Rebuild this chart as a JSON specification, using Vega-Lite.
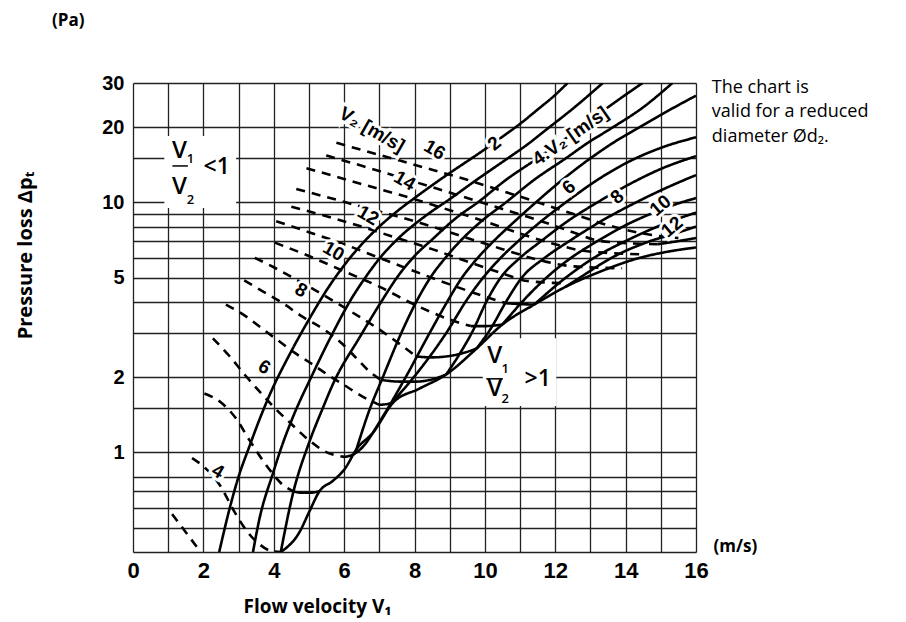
{
  "$schema": "https://vega.github.io/schema/vega-lite/v6.json",
  "autosize": {"type": "none"},
  "padding": {"left": 133, "top": 83, "right": 210, "bottom": 70},
  "width": 563,
  "height": 469,
  "background": "white",
  "config": {"view": {"stroke": null}},
  "datasets": {
    "curves": [
      {"id":"d3","s":"dashed","x":1.11,"y":0.567},{"id":"d3","s":"dashed","x":1.5,"y":0.48},{"id":"d3","s":"dashed","x":1.92,"y":0.4},
      {"id":"d4","s":"dashed","x":1.68,"y":0.95},{"id":"d4","s":"dashed","x":2.0,"y":0.88},{"id":"d4","s":"dashed","x":2.47,"y":0.74},{"id":"d4","s":"dashed","x":2.88,"y":0.58},{"id":"d4","s":"dashed","x":3.26,"y":0.48},{"id":"d4","s":"dashed","x":3.59,"y":0.43},{"id":"d4","s":"dashed","x":3.9,"y":0.405},{"id":"d4","s":"dashed","x":4.2,"y":0.4},
      {"id":"d5","s":"dashed","x":2.03,"y":1.72},{"id":"d5","s":"dashed","x":2.51,"y":1.58},{"id":"d5","s":"dashed","x":2.94,"y":1.36},{"id":"d5","s":"dashed","x":3.31,"y":1.12},{"id":"d5","s":"dashed","x":3.92,"y":0.84},{"id":"d5","s":"dashed","x":4.22,"y":0.75},{"id":"d5","s":"dashed","x":4.55,"y":0.7},
      {"id":"d6","s":"dashed","x":2.27,"y":2.86},{"id":"d6","s":"dashed","x":2.74,"y":2.43},{"id":"d6","s":"dashed","x":3.17,"y":2.05},{"id":"d6","s":"dashed","x":3.6,"y":1.75},{"id":"d6","s":"dashed","x":4.0,"y":1.52},{"id":"d6","s":"dashed","x":4.5,"y":1.3},{"id":"d6","s":"dashed","x":5.0,"y":1.12},{"id":"d6","s":"dashed","x":5.45,"y":1.01},{"id":"d6","s":"dashed","x":6.0,"y":0.96},
      {"id":"d7","s":"dashed","x":2.64,"y":3.9},{"id":"d7","s":"dashed","x":3.21,"y":3.5},{"id":"d7","s":"dashed","x":3.68,"y":3.12},{"id":"d7","s":"dashed","x":4.1,"y":2.82},{"id":"d7","s":"dashed","x":4.6,"y":2.5},{"id":"d7","s":"dashed","x":5.0,"y":2.3},{"id":"d7","s":"dashed","x":5.5,"y":2.06},{"id":"d7","s":"dashed","x":6.0,"y":1.86},{"id":"d7","s":"dashed","x":6.5,"y":1.68},{"id":"d7","s":"dashed","x":7.0,"y":1.55},
      {"id":"d8","s":"dashed","x":3.16,"y":4.87},{"id":"d8","s":"dashed","x":3.7,"y":4.4},{"id":"d8","s":"dashed","x":4.2,"y":4.0},{"id":"d8","s":"dashed","x":4.8,"y":3.5},{"id":"d8","s":"dashed","x":5.49,"y":3.06},{"id":"d8","s":"dashed","x":5.97,"y":2.7},{"id":"d8","s":"dashed","x":6.35,"y":2.38},{"id":"d8","s":"dashed","x":6.7,"y":2.12},{"id":"d8","s":"dashed","x":7.05,"y":1.95},
      {"id":"d9","s":"dashed","x":3.46,"y":6.0},{"id":"d9","s":"dashed","x":4.0,"y":5.5},{"id":"d9","s":"dashed","x":5.0,"y":4.6},{"id":"d9","s":"dashed","x":6.0,"y":3.8},{"id":"d9","s":"dashed","x":7.0,"y":3.1},{"id":"d9","s":"dashed","x":7.6,"y":2.7},{"id":"d9","s":"dashed","x":8.05,"y":2.42},
      {"id":"d10","s":"dashed","x":4.03,"y":6.9},{"id":"d10","s":"dashed","x":5.0,"y":6.1},{"id":"d10","s":"dashed","x":6.0,"y":5.3},{"id":"d10","s":"dashed","x":7.0,"y":4.6},{"id":"d10","s":"dashed","x":8.0,"y":3.9},{"id":"d10","s":"dashed","x":9.0,"y":3.4},{"id":"d10","s":"dashed","x":9.6,"y":3.2},
      {"id":"d11","s":"dashed","x":4.07,"y":8.4},{"id":"d11","s":"dashed","x":5.0,"y":7.6},{"id":"d11","s":"dashed","x":6.0,"y":6.8},{"id":"d11","s":"dashed","x":7.0,"y":6.0},{"id":"d11","s":"dashed","x":8.0,"y":5.3},{"id":"d11","s":"dashed","x":9.0,"y":4.7},{"id":"d11","s":"dashed","x":10.0,"y":4.2},{"id":"d11","s":"dashed","x":10.6,"y":3.95},
      {"id":"d12","s":"dashed","x":4.5,"y":9.6},{"id":"d12","s":"dashed","x":5.5,"y":8.8},{"id":"d12","s":"dashed","x":6.5,"y":8.0},{"id":"d12","s":"dashed","x":7.5,"y":7.2},{"id":"d12","s":"dashed","x":8.5,"y":6.5},{"id":"d12","s":"dashed","x":9.5,"y":5.8},{"id":"d12","s":"dashed","x":10.5,"y":5.2},{"id":"d12","s":"dashed","x":11.2,"y":4.85},{"id":"d12","s":"dashed","x":12.2,"y":4.75},
      {"id":"d13","s":"dashed","x":4.64,"y":11.3},{"id":"d13","s":"dashed","x":5.5,"y":10.5},{"id":"d13","s":"dashed","x":6.5,"y":9.6},{"id":"d13","s":"dashed","x":7.5,"y":8.8},{"id":"d13","s":"dashed","x":8.5,"y":8.0},{"id":"d13","s":"dashed","x":9.5,"y":7.2},{"id":"d13","s":"dashed","x":10.5,"y":6.5},{"id":"d13","s":"dashed","x":11.5,"y":5.9},{"id":"d13","s":"dashed","x":12.5,"y":5.55},{"id":"d13","s":"dashed","x":13.9,"y":5.45},
      {"id":"d14","s":"dashed","x":4.93,"y":13.7},{"id":"d14","s":"dashed","x":6.0,"y":12.4},{"id":"d14","s":"dashed","x":7.0,"y":11.3},{"id":"d14","s":"dashed","x":8.0,"y":10.3},{"id":"d14","s":"dashed","x":9.0,"y":9.3},{"id":"d14","s":"dashed","x":10.0,"y":8.4},{"id":"d14","s":"dashed","x":11.0,"y":7.5},{"id":"d14","s":"dashed","x":12.0,"y":6.8},{"id":"d14","s":"dashed","x":12.8,"y":6.4},{"id":"d14","s":"dashed","x":14.4,"y":6.2},
      {"id":"d15","s":"dashed","x":5.49,"y":15.4},{"id":"d15","s":"dashed","x":6.5,"y":14.0},{"id":"d15","s":"dashed","x":7.5,"y":12.7},{"id":"d15","s":"dashed","x":8.5,"y":11.5},{"id":"d15","s":"dashed","x":9.5,"y":10.4},{"id":"d15","s":"dashed","x":10.5,"y":9.4},{"id":"d15","s":"dashed","x":11.5,"y":8.5},{"id":"d15","s":"dashed","x":12.5,"y":7.6},{"id":"d15","s":"dashed","x":13.3,"y":7.0},{"id":"d15","s":"dashed","x":14.9,"y":6.8},
      {"id":"d16","s":"dashed","x":5.78,"y":17.3},{"id":"d16","s":"dashed","x":6.5,"y":16.2},{"id":"d16","s":"dashed","x":7.5,"y":14.8},{"id":"d16","s":"dashed","x":8.5,"y":13.5},{"id":"d16","s":"dashed","x":9.5,"y":12.3},{"id":"d16","s":"dashed","x":10.5,"y":11.1},{"id":"d16","s":"dashed","x":11.5,"y":10.0},{"id":"d16","s":"dashed","x":12.5,"y":9.0},{"id":"d16","s":"dashed","x":13.5,"y":8.1},{"id":"d16","s":"dashed","x":14.5,"y":7.5},{"id":"d16","s":"dashed","x":15.5,"y":7.2},
      {"id":"S1","s":"solid","x":2.45,"y":0.4},{"id":"S1","s":"solid","x":2.75,"y":0.6},{"id":"S1","s":"solid","x":3.0,"y":0.8},{"id":"S1","s":"solid","x":3.3,"y":1.05},{"id":"S1","s":"solid","x":3.6,"y":1.36},{"id":"S1","s":"solid","x":3.9,"y":1.72},{"id":"S1","s":"solid","x":4.44,"y":2.45},{"id":"S1","s":"solid","x":5.0,"y":3.4},{"id":"S1","s":"solid","x":5.5,"y":4.45},{"id":"S1","s":"solid","x":6.0,"y":5.6},{"id":"S1","s":"solid","x":6.5,"y":6.8},{"id":"S1","s":"solid","x":7.0,"y":8.0},{"id":"S1","s":"solid","x":7.5,"y":9.2},{"id":"S1","s":"solid","x":8.0,"y":10.4},{"id":"S1","s":"solid","x":8.5,"y":11.7},{"id":"S1","s":"solid","x":9.0,"y":13.1},{"id":"S1","s":"solid","x":9.5,"y":14.6},{"id":"S1","s":"solid","x":10.0,"y":16.3},{"id":"S1","s":"solid","x":10.5,"y":18.3},{"id":"S1","s":"solid","x":11.0,"y":20.6},{"id":"S1","s":"solid","x":11.5,"y":23.5},{"id":"S1","s":"solid","x":12.0,"y":26.9},{"id":"S1","s":"solid","x":12.35,"y":30},
      {"id":"S2","s":"solid","x":3.41,"y":0.4},{"id":"S2","s":"solid","x":3.59,"y":0.54},{"id":"S2","s":"solid","x":3.97,"y":0.82},{"id":"S2","s":"solid","x":4.25,"y":1.08},{"id":"S2","s":"solid","x":4.54,"y":1.38},{"id":"S2","s":"solid","x":5.1,"y":2.05},{"id":"S2","s":"solid","x":5.65,"y":2.95},{"id":"S2","s":"solid","x":6.2,"y":4.1},{"id":"S2","s":"solid","x":6.6,"y":5.0},{"id":"S2","s":"solid","x":7.0,"y":5.95},{"id":"S2","s":"solid","x":7.55,"y":7.2},{"id":"S2","s":"solid","x":8.3,"y":8.8},{"id":"S2","s":"solid","x":9.0,"y":10.3},{"id":"S2","s":"solid","x":9.8,"y":12.4},{"id":"S2","s":"solid","x":10.65,"y":15},{"id":"S2","s":"solid","x":11.2,"y":17},{"id":"S2","s":"solid","x":11.8,"y":19.8},{"id":"S2","s":"solid","x":12.55,"y":24},{"id":"S2","s":"solid","x":13.35,"y":30},
      {"id":"S3","s":"solid","x":4.2,"y":0.4},{"id":"S3","s":"solid","x":4.54,"y":0.68},{"id":"S3","s":"solid","x":5.01,"y":1.1},{"id":"S3","s":"solid","x":5.39,"y":1.5},{"id":"S3","s":"solid","x":5.7,"y":1.9},{"id":"S3","s":"solid","x":6.45,"y":2.9},{"id":"S3","s":"solid","x":7.1,"y":4.1},{"id":"S3","s":"solid","x":7.5,"y":5.0},{"id":"S3","s":"solid","x":8.0,"y":6.1},{"id":"S3","s":"solid","x":8.5,"y":7.1},{"id":"S3","s":"solid","x":9.2,"y":8.7},{"id":"S3","s":"solid","x":9.8,"y":10},{"id":"S3","s":"solid","x":10.6,"y":12.3},{"id":"S3","s":"solid","x":11.5,"y":15},{"id":"S3","s":"solid","x":12.1,"y":17.2},{"id":"S3","s":"solid","x":12.7,"y":19.8},{"id":"S3","s":"solid","x":13.5,"y":24},{"id":"S3","s":"solid","x":14.48,"y":30},
      {"id":"S4","s":"solid","x":6.35,"y":1.03},{"id":"S4","s":"solid","x":6.72,"y":1.48},{"id":"S4","s":"solid","x":7.1,"y":2.0},{"id":"S4","s":"solid","x":7.6,"y":2.95},{"id":"S4","s":"solid","x":8.05,"y":4.0},{"id":"S4","s":"solid","x":8.45,"y":5.0},{"id":"S4","s":"solid","x":8.9,"y":6.05},{"id":"S4","s":"solid","x":9.3,"y":7.0},{"id":"S4","s":"solid","x":9.9,"y":8.4},{"id":"S4","s":"solid","x":10.6,"y":10},{"id":"S4","s":"solid","x":11.4,"y":12.3},{"id":"S4","s":"solid","x":12.3,"y":15},{"id":"S4","s":"solid","x":12.9,"y":17.2},{"id":"S4","s":"solid","x":13.6,"y":19.8},{"id":"S4","s":"solid","x":14.5,"y":24},{"id":"S4","s":"solid","x":15.33,"y":30},
      {"id":"S5","s":"solid","x":6.82,"y":1.2},{"id":"S5","s":"solid","x":7.3,"y":1.55},{"id":"S5","s":"solid","x":7.75,"y":2.0},{"id":"S5","s":"solid","x":8.4,"y":2.95},{"id":"S5","s":"solid","x":8.95,"y":4.05},{"id":"S5","s":"solid","x":9.35,"y":5.0},{"id":"S5","s":"solid","x":9.8,"y":6.0},{"id":"S5","s":"solid","x":10.25,"y":7.0},{"id":"S5","s":"solid","x":10.85,"y":8.4},{"id":"S5","s":"solid","x":11.45,"y":10},{"id":"S5","s":"solid","x":12.2,"y":12.3},{"id":"S5","s":"solid","x":13.0,"y":15},{"id":"S5","s":"solid","x":13.7,"y":17.5},{"id":"S5","s":"solid","x":14.4,"y":20},{"id":"S5","s":"solid","x":15.2,"y":23.2},{"id":"S5","s":"solid","x":16,"y":26.7},
      {"id":"S6","s":"solid","x":7.39,"y":1.6},{"id":"S6","s":"solid","x":8.1,"y":2.1},{"id":"S6","s":"solid","x":8.9,"y":3.0},{"id":"S6","s":"solid","x":9.5,"y":4.1},{"id":"S6","s":"solid","x":9.95,"y":5.0},{"id":"S6","s":"solid","x":10.45,"y":6.0},{"id":"S6","s":"solid","x":10.95,"y":7.0},{"id":"S6","s":"solid","x":11.6,"y":8.4},{"id":"S6","s":"solid","x":12.3,"y":10},{"id":"S6","s":"solid","x":13.2,"y":12.3},{"id":"S6","s":"solid","x":14.2,"y":14.8},{"id":"S6","s":"solid","x":15.1,"y":16.7},{"id":"S6","s":"solid","x":16,"y":18.2},
      {"id":"S7","s":"solid","x":8.9,"y":2.05},{"id":"S7","s":"solid","x":9.3,"y":2.5},{"id":"S7","s":"solid","x":9.65,"y":3.05},{"id":"S7","s":"solid","x":10.04,"y":4.0},{"id":"S7","s":"solid","x":10.45,"y":5.0},{"id":"S7","s":"solid","x":11.0,"y":6.0},{"id":"S7","s":"solid","x":11.6,"y":7.0},{"id":"S7","s":"solid","x":12.4,"y":8.5},{"id":"S7","s":"solid","x":13.2,"y":10},{"id":"S7","s":"solid","x":14.1,"y":11.8},{"id":"S7","s":"solid","x":15.0,"y":13.6},{"id":"S7","s":"solid","x":16,"y":15.3},
      {"id":"S8","s":"solid","x":9.76,"y":2.6},{"id":"S8","s":"solid","x":10.15,"y":3.1},{"id":"S8","s":"solid","x":10.6,"y":4.0},{"id":"S8","s":"solid","x":11.05,"y":5.0},{"id":"S8","s":"solid","x":11.7,"y":6.0},{"id":"S8","s":"solid","x":12.4,"y":7.0},{"id":"S8","s":"solid","x":13.3,"y":8.4},{"id":"S8","s":"solid","x":14.3,"y":10},{"id":"S8","s":"solid","x":15.2,"y":11.5},{"id":"S8","s":"solid","x":16,"y":12.85},
      {"id":"S9","s":"solid","x":10.5,"y":3.25},{"id":"S9","s":"solid","x":11.2,"y":4.2},{"id":"S9","s":"solid","x":11.75,"y":5.0},{"id":"S9","s":"solid","x":12.45,"y":6.0},{"id":"S9","s":"solid","x":13.2,"y":7.0},{"id":"S9","s":"solid","x":14.0,"y":8.1},{"id":"S9","s":"solid","x":14.8,"y":9.1},{"id":"S9","s":"solid","x":15.4,"y":9.8},{"id":"S9","s":"solid","x":16,"y":10.4},
      {"id":"S10","s":"solid","x":11.4,"y":3.9},{"id":"S10","s":"solid","x":12.3,"y":5.0},{"id":"S10","s":"solid","x":13.1,"y":6.0},{"id":"S10","s":"solid","x":14.0,"y":7.0},{"id":"S10","s":"solid","x":15.0,"y":8.1},{"id":"S10","s":"solid","x":16,"y":9.1},
      {"id":"S11","s":"solid","x":12.3,"y":4.6},{"id":"S11","s":"solid","x":12.7,"y":5.0},{"id":"S11","s":"solid","x":13.6,"y":6.0},{"id":"S11","s":"solid","x":14.7,"y":7.0},{"id":"S11","s":"solid","x":15.4,"y":7.5},{"id":"S11","s":"solid","x":16,"y":8.0},
      {"id":"S12","s":"solid","x":14.9,"y":6.8},{"id":"S12","s":"solid","x":15.5,"y":7.0},{"id":"S12","s":"solid","x":16,"y":7.2},
      {"id":"E","s":"solid","x":4.2,"y":0.4},{"id":"E","s":"solid","x":4.73,"y":0.48},{"id":"E","s":"solid","x":5.01,"y":0.58},{"id":"E","s":"solid","x":5.3,"y":0.7},{"id":"E","s":"solid","x":5.68,"y":0.77},{"id":"E","s":"solid","x":6.02,"y":0.86},{"id":"E","s":"solid","x":6.35,"y":1.03},{"id":"E","s":"solid","x":6.82,"y":1.2},{"id":"E","s":"solid","x":7.39,"y":1.58},{"id":"E","s":"solid","x":8.14,"y":1.8},{"id":"E","s":"solid","x":8.9,"y":2.05},{"id":"E","s":"solid","x":9.76,"y":2.6},{"id":"E","s":"solid","x":10.5,"y":3.25},{"id":"E","s":"solid","x":11.4,"y":3.9},{"id":"E","s":"solid","x":12.3,"y":4.6},{"id":"E","s":"solid","x":13.3,"y":5.3},{"id":"E","s":"solid","x":14.4,"y":6.0},{"id":"E","s":"solid","x":15.2,"y":6.35},{"id":"E","s":"solid","x":16,"y":6.6},
      {"id":"H5","s":"solid","x":4.55,"y":0.7},{"id":"H5","s":"solid","x":4.8,"y":0.69},{"id":"H5","s":"solid","x":5.02,"y":0.69},{"id":"H5","s":"solid","x":5.3,"y":0.7},
      {"id":"H6","s":"solid","x":6.0,"y":0.96},{"id":"H6","s":"solid","x":6.25,"y":0.98},{"id":"H6","s":"solid","x":6.55,"y":1.06},{"id":"H6","s":"solid","x":6.82,"y":1.2},
      {"id":"H7","s":"solid","x":7.0,"y":1.55},{"id":"H7","s":"solid","x":7.2,"y":1.56},{"id":"H7","s":"solid","x":7.39,"y":1.58},
      {"id":"H8","s":"solid","x":7.05,"y":1.95},{"id":"H8","s":"solid","x":7.6,"y":1.92},{"id":"H8","s":"solid","x":8.05,"y":1.92},{"id":"H8","s":"solid","x":8.5,"y":1.96},{"id":"H8","s":"solid","x":8.9,"y":2.05},
      {"id":"H9","s":"solid","x":8.05,"y":2.42},{"id":"H9","s":"solid","x":8.5,"y":2.4},{"id":"H9","s":"solid","x":8.9,"y":2.42},{"id":"H9","s":"solid","x":9.3,"y":2.48},{"id":"H9","s":"solid","x":9.76,"y":2.6},
      {"id":"H10","s":"solid","x":9.6,"y":3.2},{"id":"H10","s":"solid","x":10.0,"y":3.2},{"id":"H10","s":"solid","x":10.5,"y":3.25},
      {"id":"H11","s":"solid","x":10.6,"y":3.95},{"id":"H11","s":"solid","x":11.0,"y":3.92},{"id":"H11","s":"solid","x":11.4,"y":3.9}
    ],
    "boxes": [
      {"x":0.89,"x2":2.93,"y":9.5,"y2":18.4},
      {"x":9.94,"x2":12.03,"y":1.535,"y2":2.86}
    ],
    "bars": [
      {"x":1.12,"x2":1.56,"y":13.98},
      {"x":10.04,"x2":10.51,"y":1.97}
    ],
    "boxtext": [
      {"t":"V","x":1.32,"y":16.05,"f":24},{"t":"1","x":1.63,"y":14.9,"f":13},{"t":"V","x":1.32,"y":11.55,"f":24},{"t":"2","x":1.63,"y":10.2,"f":13},{"t":"<1","x":2.38,"y":13.9,"f":23},
      {"t":"V","x":10.28,"y":2.43,"f":24},{"t":"1","x":10.58,"y":2.15,"f":13},{"t":"V","x":10.28,"y":1.8,"f":24},{"t":"2","x":10.58,"y":1.64,"f":13},{"t":">1","x":11.5,"y":1.97,"f":23}
    ],
    "labels": [
      {"t":"V₂ [m/s]","x":6.79,"y":19.5,"a":30},{"t":"16","x":8.57,"y":16.2,"a":30},{"t":"14","x":7.72,"y":12.2,"a":30},{"t":"12","x":6.68,"y":8.86,"a":30},{"t":"10","x":5.7,"y":6.37,"a":30},{"t":"8","x":4.78,"y":4.45,"a":30},{"t":"6","x":3.73,"y":2.19,"a":30},{"t":"4","x":2.41,"y":0.84,"a":30},
      {"t":"2","x":10.27,"y":17.2,"a":-40},{"t":"4.V₂ [m/s]","x":12.43,"y":18.4,"a":-35},{"t":"6","x":12.39,"y":11.5,"a":-40},{"t":"8","x":13.76,"y":10.5,"a":-40},{"t":"10","x":14.99,"y":9.7,"a":-40},{"t":"12","x":15.32,"y":7.98,"a":-40}
    ],
    "notes": [
      {"t":"(Pa)","x":-2.3,"y":53},
      {"t":"(m/s)","x":16.5,"y":0.42}
    ],
    "note2": [
      {"t":"The chart is","x":16.45,"y":27.4},
      {"t":"valid for a reduced","x":16.45,"y":21.9},
      {"t":"diameter Ød₂.","x":16.45,"y":17.5}
    ]
  },
  "encoding": {
    "x": {"field":"x","type":"quantitative",
      "scale":{"domain":[0,16],"nice":false,"zero":false},
      "axis":{"values":[0,1,2,3,4,5,6,7,8,9,10,11,12,13,14,15,16],
        "labelExpr":"datum.value % 2 == 0 ? format(datum.value,'d') : ''",
        "grid":true,"gridColor":"#222","gridWidth":1.3,"domain":false,"ticks":false,
        "labelFont":"Liberation Sans","labelFontWeight":"bold","labelFontSize":22,"labelColor":"#000",
        "labelPadding":8,"labelOverlap":false,"labelFlush":false,"labelBound":false,
        "title":"Flow velocity V₁","titleFont":"Open Sans","titleFontWeight":"bold","titleFontSize":19,"titleColor":"#000",
        "titleX":184,"titleY":54,"titleAlign":"center","titleBaseline":"middle"}},
    "y": {"field":"y","type":"quantitative",
      "scale":{"type":"log","domain":[0.4,30],"nice":false},
      "axis":{"values":[0.4,0.5,0.6,0.7,0.8,1,1.5,2,3,4,5,6,7,8,9,10,15,20,30],
        "labelExpr":"indexof([1,2,5,10,20,30], datum.value) >= 0 ? format(datum.value,'d') : ''",
        "grid":true,"gridColor":"#222","gridWidth":1.3,"domain":false,"ticks":false,
        "labelFont":"Liberation Sans","labelFontWeight":"bold","labelFontSize":20,"labelColor":"#000",
        "labelPadding":9,"labelOverlap":false,"labelFlush":false,"labelBound":false,
        "title":"Pressure loss Δpₜ","titleFont":"Open Sans","titleFontWeight":"bold","titleFontSize":20,"titleColor":"#000",
        "titleX":-108,"titleY":172,"titleAlign":"center","titleBaseline":"middle","titleAngle":-90}}
  },
  "layer": [
    {"data":{"name":"boxes"},"mark":{"type":"rect","color":"white","opacity":1},
      "encoding":{"x2":{"field":"x2"},"y2":{"field":"y2"}}},
    {"data":{"name":"curves"},"mark":{"type":"line","color":"black","strokeWidth":2.6,"interpolate":"monotone","clip":true,"strokeCap":"butt"},
      "encoding":{"detail":{"field":"id"},
        "strokeDash":{"field":"s","type":"nominal","scale":{"domain":["solid","dashed"],"range":[[1,0],[9,7]]},"legend":null}}},
    {"data":{"name":"bars"},"mark":{"type":"rule","color":"black","strokeWidth":1.5},
      "encoding":{"x2":{"field":"x2"}}},
    {"data":{"name":"boxtext"},"mark":{"type":"text","font":"Open Sans","fontWeight":600,"color":"black","align":"center","baseline":"middle"},
      "encoding":{"text":{"field":"t"},"size":{"field":"f","type":"quantitative","scale":null}}},
    {"data":{"name":"labels"},"mark":{"type":"text","font":"Liberation Sans","fontWeight":"bold","fontSize":19,"color":"white","stroke":"white","strokeWidth":6,"align":"center","baseline":"middle"},
      "encoding":{"text":{"field":"t"},"angle":{"field":"a","type":"quantitative","scale":null}}},
    {"data":{"name":"labels"},"mark":{"type":"text","font":"Liberation Sans","fontWeight":"bold","fontSize":19,"color":"black","align":"center","baseline":"middle"},
      "encoding":{"text":{"field":"t"},"angle":{"field":"a","type":"quantitative","scale":null}}},
    {"data":{"name":"notes"},"mark":{"type":"text","font":"Open Sans","fontWeight":"bold","fontSize":17,"color":"black","align":"left","baseline":"middle"},
      "encoding":{"text":{"field":"t"}}},
    {"data":{"name":"note2"},"mark":{"type":"text","font":"Open Sans","fontSize":18,"color":"black","align":"left","baseline":"alphabetic"},
      "encoding":{"text":{"field":"t"}}}
  ]
}
